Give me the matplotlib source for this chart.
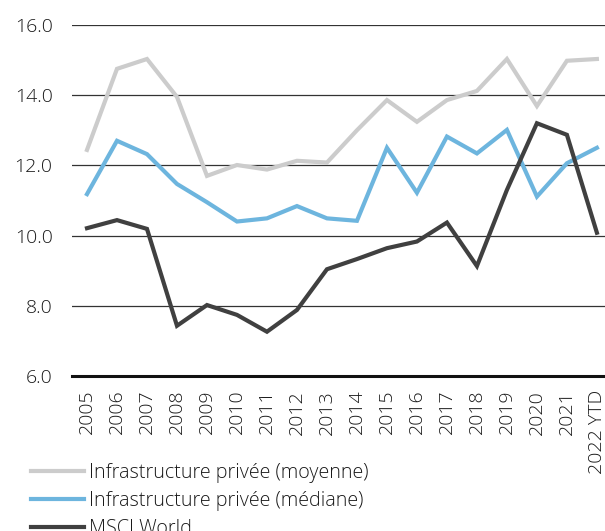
import matplotlib
matplotlib.use("Agg")
import matplotlib.pyplot as plt

# ---------------------------------------
# chart data
years = ["2005", "2006", "2007", "2008", "2009", "2010", "2011", "2012", "2013",
         "2014", "2015", "2016", "2017", "2018", "2019", "2020", "2021", "2022 YTD"]

moyenne = [12.44, 14.75, 15.03, 13.95, 11.70, 12.01, 11.88, 12.13, 12.08,
           13.00, 13.86, 13.24, 13.86, 14.12, 15.03, 13.69, 14.98, 15.03]
mediane = [11.18, 12.70, 12.32, 11.47, 10.95, 10.40, 10.49, 10.84, 10.49,
           10.42, 12.50, 11.22, 12.82, 12.34, 13.01, 11.11, 12.06, 12.50]
msci = [10.21, 10.44, 10.19, 7.43, 8.02, 7.74, 7.26, 7.88, 9.04,
        9.33, 9.64, 9.83, 10.37, 9.13, 11.30, 13.20, 12.87, 10.08]

series_labels = ["Infrastructure privée (moyenne)",
                 "Infrastructure privée (médiane)",
                 "MSCI World"]
y_ticks = [6.0, 8.0, 10.0, 12.0, 14.0, 16.0]

# ---------------------------------------

def main():
    plt.rcParams['font.family'] = ['Open Sans', 'DejaVu Sans']
    plt.rcParams['font.weight'] = 'light'

    fig = plt.figure(figsize=(6.05, 5.31), dpi=100)
    ax = fig.add_axes([0.119, 0.292, 0.881, 0.661])

    x = range(len(years))
    ax.plot(x, moyenne, color="#cccccc", lw=3.0, label=series_labels[0], solid_joinstyle="miter")
    ax.plot(x, mediane, color="#6db5de", lw=3.0, label=series_labels[1], solid_joinstyle="miter")
    ax.plot(x, msci, color="#404040", lw=3.0, label=series_labels[2], solid_joinstyle="miter")

    ax.set_ylim(6.0, 16.0)
    ax.set_xlim(-0.5, 17.27)
    ax.set_yticks(y_ticks)
    ax.set_yticklabels(["%.1f" % v for v in y_ticks])
    ax.set_xticks(list(x))
    ax.set_xticklabels(years, rotation=90)
    ax.tick_params(axis="both", length=0, labelsize=14, colors="#1a1a1a")
    ax.tick_params(axis="y", pad=14)
    ax.tick_params(axis="x", pad=10)

    for v in y_ticks[1:]:
        ax.axhline(v, color="#333333", lw=0.9, zorder=0)
    for side in ["top", "right", "left"]:
        ax.spines[side].set_visible(False)
    ax.spines["bottom"].set_color("#111111")
    ax.spines["bottom"].set_linewidth(2.2)

    fig.legend(loc="upper left", bbox_to_anchor=(0.051, 0.129), frameon=False,
               fontsize=14.2, handlelength=2.7, handletextpad=0.25,
               labelspacing=0.42, borderaxespad=0, borderpad=0,
               labelcolor="#1a1a1a")

    fig.savefig("out.png", dpi=100)

# ---------------------------------------

if __name__ == "__main__":
    main()
